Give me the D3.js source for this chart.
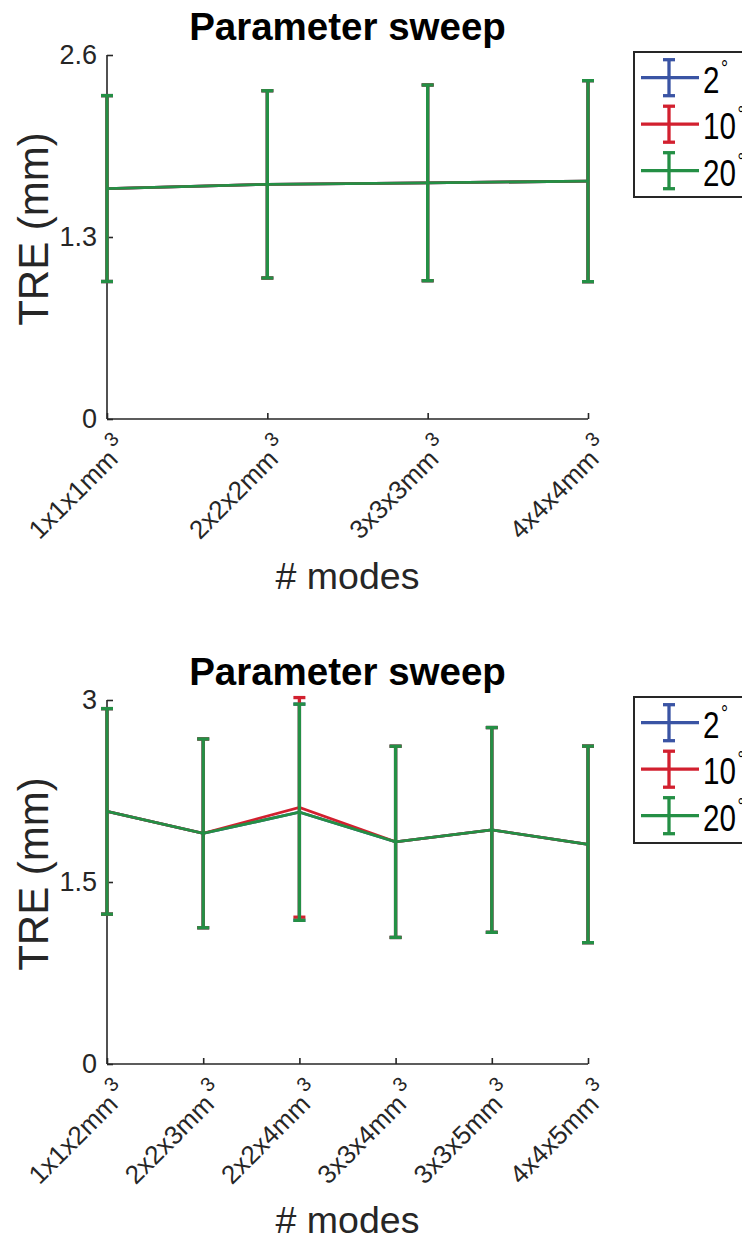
<!DOCTYPE html>
<html>
<head>
<meta charset="utf-8">
<script src="https://cdn.jsdelivr.net/npm/d3@7"></script>
<style>
  html, body { margin: 0; padding: 0; background: #fff; overflow: hidden; }
  svg { display: block; font-family: "Liberation Sans", Arial, Helvetica, sans-serif; }
</style>
</head>
<body>
<script>
// ---- Data ----------------------------------------------------------------
const seriesNames = ["2", "10", "20"];            // angle (degrees)
const seriesColors = ["#3A54A4", "#D2202F", "#248F45"];

// Panel 1: isotropic voxel sizes
const categoriesA = ["1x1x1mm", "2x2x2mm", "3x3x3mm", "4x4x4mm"];
const meansA_2  = [1.646, 1.676, 1.687, 1.699];
const meansA_10 = [1.646, 1.676, 1.687, 1.699];
const meansA_20 = [1.646, 1.676, 1.687, 1.699];
const errA_2  = [0.664, 0.669, 0.699, 0.718];
const errA_10 = [0.664, 0.669, 0.699, 0.718];
const errA_20 = [0.664, 0.669, 0.699, 0.718];
const yTicksA = [0, 1.3, 2.6];
const yTickLabelsA = ["0", "1.3", "2.6"];

// Panel 2: anisotropic voxel sizes
const categoriesB = ["1x1x2mm", "2x2x3mm", "2x2x4mm", "3x3x4mm", "3x3x5mm", "4x4x5mm"];
const meansB_2  = [2.082, 1.901, 2.075, 1.831, 1.929, 1.810];
const meansB_10 = [2.082, 1.901, 2.115, 1.831, 1.929, 1.810];
const meansB_20 = [2.082, 1.901, 2.075, 1.831, 1.929, 1.810];
const errB_2  = [0.847, 0.778, 0.891, 0.788, 0.844, 0.810];
const errB_10 = [0.847, 0.778, 0.905, 0.788, 0.844, 0.810];
const errB_20 = [0.847, 0.778, 0.891, 0.788, 0.844, 0.810];
const yTicksB = [0, 1.5, 3];
const yTickLabelsB = ["0", "1.5", "3"];

const titleText = "Parameter sweep";
const xLabelText = "# modes";
const yLabelText = "TRE (mm)";

// ---- Layout --------------------------------------------------------------
const W = 742, H = 1241;
const AXIS = "#262626";

const panels = [
  { cats: categoriesA, means: [meansA_2, meansA_10, meansA_20], errs: [errA_2, errA_10, errA_20],
    ticks: yTicksA, tickLabels: yTickLabelsA, yMax: 2.6,
    top: 55, bottom: 419, left: 107, right: 588, titleY: 40, xLabelY: 589, legTop: 52, legBottom: 197 },
  { cats: categoriesB, means: [meansB_2, meansB_10, meansB_20], errs: [errB_2, errB_10, errB_20],
    ticks: yTicksB, tickLabels: yTickLabelsB, yMax: 3,
    top: 700, bottom: 1064, left: 107, right: 588, titleY: 685, xLabelY: 1233, legTop: 697, legBottom: 843 }
];

const svg = d3.select("body").append("svg")
  .attr("width", W).attr("height", H)
  .attr("viewBox", `0 0 ${W} ${H}`);
svg.append("rect").attr("width", W).attr("height", H).attr("fill", "#fff");

panels.forEach(p => {
  const g = svg.append("g");
  const x = d3.scalePoint().domain(p.cats).range([p.left, p.right]).padding(0);
  const y = d3.scaleLinear().domain([0, p.yMax]).range([p.bottom, p.top]);

  // Axes: ticks point inward
  const yAxis = d3.axisLeft(y).tickValues(p.ticks).tickSize(-6).tickPadding(10)
    .tickFormat((d, i) => p.tickLabels[i]);
  const ya = g.append("g").attr("transform", `translate(${p.left},0)`).call(yAxis);
  ya.select(".domain").attr("d", `M${0},${p.top}V${p.bottom}`)
    .attr("stroke", AXIS).attr("stroke-width", 1.6);
  ya.selectAll(".tick line").attr("stroke", AXIS).attr("stroke-width", 1.6);
  ya.selectAll(".tick text").attr("fill", AXIS).attr("font-size", 27)
    .attr("font-family", "Liberation Sans, Arial, sans-serif");

  const xAxis = d3.axisBottom(x).tickSize(-6).tickFormat("");
  const xa = g.append("g").attr("transform", `translate(0,${p.bottom})`).call(xAxis);
  xa.select(".domain").attr("d", `M${p.left},0H${p.right}`)
    .attr("stroke", AXIS).attr("stroke-width", 1.6);
  xa.selectAll(".tick line").attr("stroke", AXIS).attr("stroke-width", 1.6);

  // Rotated category labels with superscript 3
  p.cats.forEach(c => {
    const tx = x(c) + 23, ty = p.bottom + 31;
    const t = g.append("text")
      .attr("transform", `translate(${tx},${ty}) rotate(-45)`)
      .attr("text-anchor", "end")
      .attr("fill", AXIS)
      .attr("font-size", 26);
    t.append("tspan").text(c);
    t.append("tspan").attr("dx", 4).attr("dy", -14).attr("font-size", 20).text("3");
  });

  // Series: error bars + connecting lines (green drawn last, on top)
  const capHalf = 6;
  p.means.forEach((m, si) => {
    const col = seriesColors[si];
    const e = p.errs[si];
    const sg = g.append("g").attr("stroke", col).attr("fill", "none").attr("stroke-width", 2.8);
    const line = d3.line().x((d, i) => x(p.cats[i])).y(d => y(d));
    sg.append("path").attr("d", line(m)).attr("stroke-linejoin", "miter");
    m.forEach((v, i) => {
      const cx = x(p.cats[i]);
      const y1 = y(v + e[i]), y0 = y(v - e[i]);
      sg.append("line").attr("x1", cx).attr("x2", cx).attr("y1", y1).attr("y2", y0).attr("stroke-width", 3.3);
      sg.append("line").attr("x1", cx - capHalf).attr("x2", cx + capHalf).attr("y1", y1).attr("y2", y1).attr("stroke-width", 3.3);
      sg.append("line").attr("x1", cx - capHalf).attr("x2", cx + capHalf).attr("y1", y0).attr("y2", y0).attr("stroke-width", 3.3);
    });
  });

  // Title and axis labels
  g.append("text").attr("x", (p.left + p.right) / 2).attr("y", p.titleY)
    .attr("text-anchor", "middle").attr("font-weight", "bold").attr("font-size", 38.5)
    .attr("fill", "#000").text(titleText);
  g.append("text").attr("x", (p.left + p.right) / 2).attr("y", p.xLabelY)
    .attr("text-anchor", "middle").attr("font-size", 37.5).attr("fill", AXIS).text(xLabelText);
  g.append("text")
    .attr("transform", `translate(48,${(p.top + p.bottom) / 2 - 8}) rotate(-90)`)
    .attr("text-anchor", "middle").attr("font-size", 42).attr("fill", AXIS).text(yLabelText);

  // Legend (box runs past the right edge of the figure)
  const lg = g.append("g");
  lg.append("rect").attr("x", 634).attr("y", p.legTop)
    .attr("width", 140).attr("height", p.legBottom - p.legTop)
    .attr("fill", "#fff").attr("stroke", AXIS).attr("stroke-width", 2);
  seriesNames.forEach((name, si) => {
    const ly = p.legTop + 25.7 + si * 46.5;
    const col = seriesColors[si];
    const it = lg.append("g").attr("stroke", col).attr("stroke-width", 3.3);
    it.append("line").attr("x1", 641).attr("x2", 699).attr("y1", ly).attr("y2", ly);
    it.append("line").attr("x1", 669).attr("x2", 669).attr("y1", ly - 18).attr("y2", ly + 18);
    it.append("line").attr("x1", 663).attr("x2", 675).attr("y1", ly - 18).attr("y2", ly - 18);
    it.append("line").attr("x1", 663).attr("x2", 675).attr("y1", ly + 18).attr("y2", ly + 18);
    const t = lg.append("text")
      .attr("transform", `translate(703,${ly + 15}) scale(0.8,1)`)
      .attr("font-size", 37).attr("fill", "#000");
    t.append("tspan").text(name);
    t.append("tspan").attr("dx", 2).attr("dy", -17).attr("font-size", 22).text("°");
  });
});
</script>
</body>
</html>
